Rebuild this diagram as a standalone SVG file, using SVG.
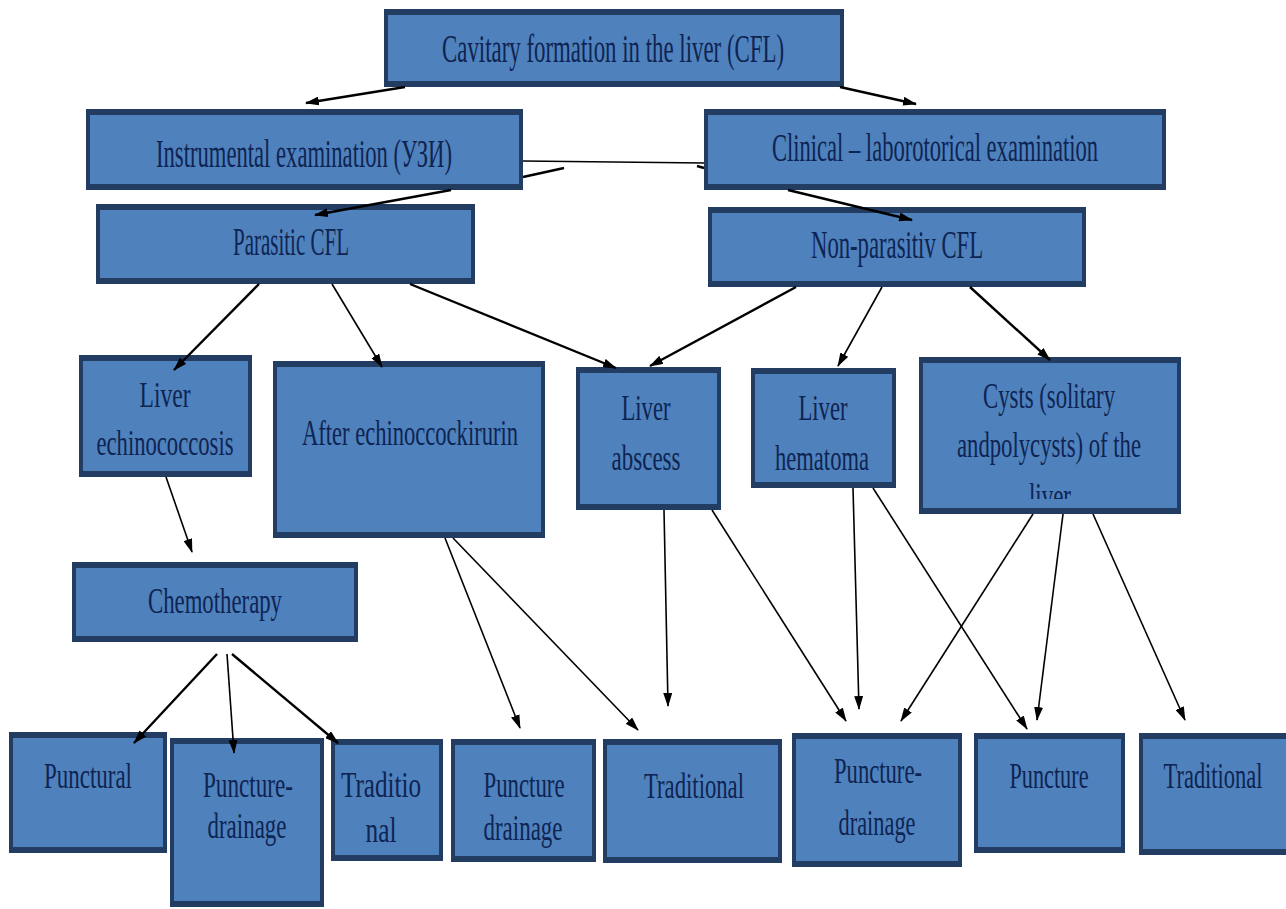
<svg xmlns="http://www.w3.org/2000/svg" width="1286" height="909" viewBox="0 0 1286 909">
<style>
.o{fill:#223C62}
.i{fill:#4F81BD}
.t{font-family:"Liberation Serif","Times New Roman",serif;font-size:35px;fill:#0E2452;text-anchor:middle}
.big{font-size:39px}
.c{stroke:#000;fill:none;stroke-width:1.6}
.k{stroke-width:2.4}
.a{marker-end:url(#ah)}
</style>
<defs>
<marker id="ah" markerUnits="userSpaceOnUse" markerWidth="14" markerHeight="9" refX="13" refY="4.5" orient="auto">
<path d="M0,0 L14,4.5 L0,9 z" fill="#000"/>
</marker>
<clipPath id="cystclip"><rect x="923" y="363" width="254" height="136"/></clipPath>
</defs>
<rect width="1286" height="909" fill="#fff"/>

<g id="n-cfl"><rect class="o" x="384" y="9" width="460" height="78"/><rect class="i" x="388" y="15" width="452" height="66"/>
<text class="t big" x="613" y="62" textLength="342" lengthAdjust="spacingAndGlyphs">Cavitary formation in the liver (CFL)</text></g>

<g id="n-instr"><rect class="o" x="86" y="109" width="437" height="81"/><rect class="i" x="90" y="115" width="429" height="69"/>
<text class="t big" x="304" y="167" textLength="296" lengthAdjust="spacingAndGlyphs">Instrumental examination (УЗИ)</text></g>

<g id="n-clin"><rect class="o" x="704" y="109" width="462" height="81"/><rect class="i" x="708" y="115" width="454" height="69"/>
<text class="t big" x="935" y="161" textLength="326" lengthAdjust="spacingAndGlyphs">Clinical – laborotorical examination</text></g>

<g id="n-par"><rect class="o" x="96" y="204" width="379" height="80"/><rect class="i" x="100" y="210" width="371" height="68"/>
<text class="t big" x="291" y="255" textLength="116" lengthAdjust="spacingAndGlyphs">Parasitic CFL</text></g>

<g id="n-nonpar"><rect class="o" x="708" y="207" width="378" height="80"/><rect class="i" x="712" y="213" width="370" height="68"/>
<text class="t big" x="897" y="258" textLength="172" lengthAdjust="spacingAndGlyphs">Non-parasitiv CFL</text></g>

<g id="n-echin"><rect class="o" x="79" y="355" width="173" height="122"/><rect class="i" x="83" y="361" width="165" height="110"/>
<text class="t" x="165" y="407" textLength="51" lengthAdjust="spacingAndGlyphs">Liver</text>
<text class="t" x="165" y="455" textLength="137" lengthAdjust="spacingAndGlyphs">echinococcosis</text></g>

<g id="n-after"><rect class="o" x="273" y="361" width="272" height="177"/><rect class="i" x="277" y="367" width="264" height="165"/>
<text class="t" x="410" y="445" textLength="216" lengthAdjust="spacingAndGlyphs">After echinoccockirurin</text></g>

<g id="n-chemo"><rect class="o" x="72" y="562" width="286" height="80"/><rect class="i" x="76" y="568" width="278" height="68"/>
<text class="t" x="215" y="613" textLength="134" lengthAdjust="spacingAndGlyphs">Chemotherapy</text></g>

<g id="n-abscess"><rect class="o" x="576" y="367" width="145" height="143"/><rect class="i" x="580" y="373" width="137" height="131"/>
<text class="t" x="646" y="420" textLength="49" lengthAdjust="spacingAndGlyphs">Liver</text>
<text class="t" x="646" y="470" textLength="69" lengthAdjust="spacingAndGlyphs">abscess</text></g>

<g id="n-hematoma"><rect class="o" x="751" y="368" width="145" height="120"/><rect class="i" x="755" y="374" width="137" height="108"/>
<text class="t" x="823" y="420" textLength="49" lengthAdjust="spacingAndGlyphs">Liver</text>
<text class="t" x="822" y="470" textLength="94" lengthAdjust="spacingAndGlyphs">hematoma</text></g>

<g id="n-cysts"><rect class="o" x="919" y="357" width="262" height="157"/><rect class="i" x="923" y="363" width="254" height="145"/>
<text class="t" x="1049" y="408" textLength="132" lengthAdjust="spacingAndGlyphs">Cysts (solitary</text>
<text class="t" x="1049" y="457" textLength="184" lengthAdjust="spacingAndGlyphs">andpolycysts) of the</text>
<text class="t" x="1050" y="508" textLength="42" lengthAdjust="spacingAndGlyphs" clip-path="url(#cystclip)">liver</text></g>

<g id="n-punctural"><rect class="o" x="9" y="732" width="158" height="121"/><rect class="i" x="13" y="738" width="150" height="109"/>
<text class="t" x="88" y="788" textLength="88" lengthAdjust="spacingAndGlyphs">Punctural</text></g>

<g id="n-pd1"><rect class="o" x="170" y="738" width="154" height="169"/><rect class="i" x="174" y="744" width="146" height="157"/>
<text class="t" x="248" y="797" textLength="90" lengthAdjust="spacingAndGlyphs">Puncture-</text>
<text class="t" x="247" y="838" textLength="79" lengthAdjust="spacingAndGlyphs">drainage</text></g>

<g id="n-trad0"><rect class="o" x="331" y="739" width="112" height="122"/><rect class="i" x="335" y="745" width="104" height="110"/>
<text class="t" x="381" y="797" textLength="80" lengthAdjust="spacingAndGlyphs">Traditio</text>
<text class="t" x="381" y="842" textLength="31" lengthAdjust="spacingAndGlyphs">nal</text></g>

<g id="n-pd2"><rect class="o" x="451" y="739" width="145" height="123"/><rect class="i" x="455" y="745" width="137" height="111"/>
<text class="t" x="524" y="797" textLength="81" lengthAdjust="spacingAndGlyphs">Puncture</text>
<text class="t" x="523" y="840" textLength="79" lengthAdjust="spacingAndGlyphs">drainage</text></g>

<g id="n-trad1"><rect class="o" x="603" y="739" width="179" height="124"/><rect class="i" x="607" y="745" width="171" height="112"/>
<text class="t" x="694" y="798" textLength="100" lengthAdjust="spacingAndGlyphs">Traditional</text></g>

<g id="n-pd3"><rect class="o" x="792" y="733" width="170" height="134"/><rect class="i" x="796" y="739" width="162" height="122"/>
<text class="t" x="878" y="783" textLength="88" lengthAdjust="spacingAndGlyphs">Puncture-</text>
<text class="t" x="877" y="835" textLength="77" lengthAdjust="spacingAndGlyphs">drainage</text></g>

<g id="n-puncture"><rect class="o" x="974" y="733" width="151" height="120"/><rect class="i" x="978" y="739" width="143" height="108"/>
<text class="t" x="1049" y="788" textLength="79" lengthAdjust="spacingAndGlyphs">Puncture</text></g>

<g id="n-trad2"><rect class="o" x="1139" y="733" width="155" height="122"/><rect class="i" x="1143" y="739" width="147" height="110"/>
<text class="t" x="1213" y="788" textLength="99" lengthAdjust="spacingAndGlyphs">Traditional</text></g>

<g id="connectors">
<line class="c k a" x1="405" y1="87" x2="306" y2="103"/>
<line class="c k a" x1="840" y1="87" x2="916" y2="104"/>
<line class="c" x1="523" y1="161" x2="704" y2="163"/>
<line class="c k" x1="523" y1="177" x2="564" y2="168"/>
<line class="c k a" x1="451" y1="190" x2="315" y2="215"/>
<line class="c k" x1="697" y1="166" x2="704" y2="168"/>
<line class="c k a" x1="788" y1="190" x2="912" y2="220"/>
<line class="c k a" x1="259" y1="284" x2="174" y2="370"/>
<line class="c a" x1="332" y1="284" x2="382" y2="367"/>
<line class="c k a" x1="410" y1="284" x2="616" y2="368"/>
<line class="c k a" x1="796" y1="287" x2="650" y2="366"/>
<line class="c a" x1="882" y1="287" x2="838" y2="366"/>
<line class="c k a" x1="970" y1="287" x2="1050" y2="360"/>
<line class="c a" x1="166" y1="477" x2="192" y2="552"/>
<line class="c k a" x1="217" y1="654" x2="134" y2="743"/>
<line class="c a" x1="227" y1="654" x2="234" y2="753"/>
<line class="c k a" x1="232" y1="654" x2="338" y2="743"/>
<line class="c a" x1="445" y1="538" x2="520" y2="728"/>
<line class="c a" x1="453" y1="538" x2="638" y2="730"/>
<line class="c a" x1="664" y1="510" x2="668" y2="706"/>
<line class="c a" x1="712" y1="510" x2="846" y2="721"/>
<line class="c a" x1="853" y1="488" x2="859" y2="709"/>
<line class="c a" x1="873" y1="488" x2="1027" y2="729"/>
<line class="c a" x1="1033" y1="514" x2="901" y2="721"/>
<line class="c a" x1="1063" y1="514" x2="1037" y2="720"/>
<line class="c a" x1="1093" y1="514" x2="1185" y2="720"/>
</g>
</svg>
